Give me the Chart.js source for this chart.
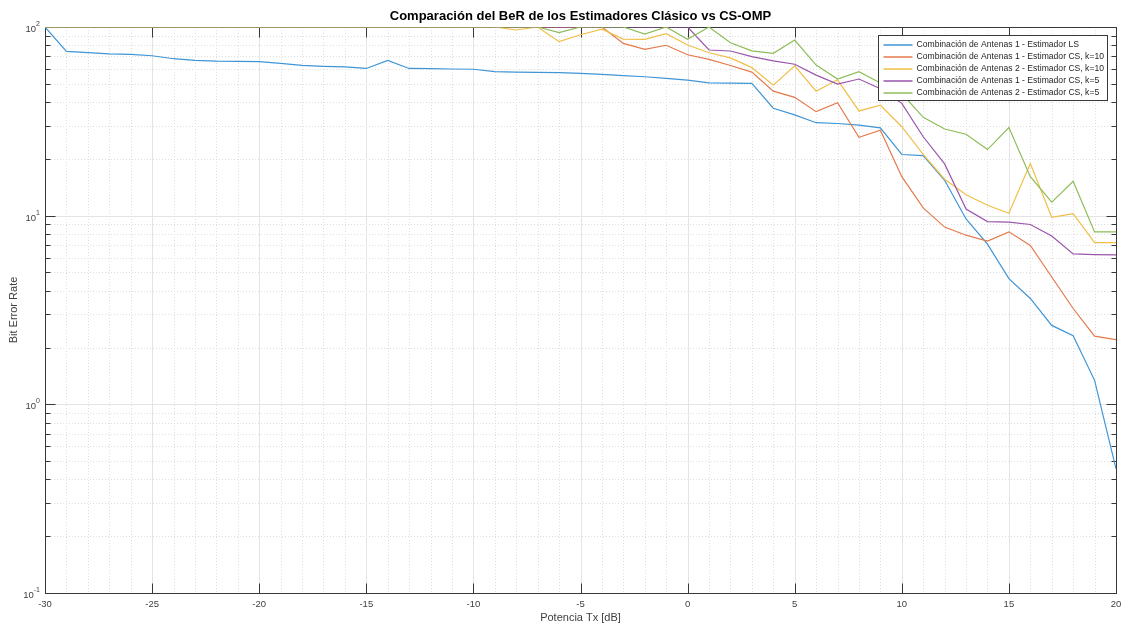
<!DOCTYPE html>
<html>
<head>
<meta charset="utf-8">
<title>Comparación del BeR de los Estimadores Clásico vs CS-OMP</title>
<script src="https://cdn.jsdelivr.net/npm/chart.js@4/dist/chart.umd.min.js"></script>
<style>
  html, body { margin: 0; padding: 0; background: #ffffff; }
  canvas { display: block; }
</style>
</head>
<body>
<canvas id="berChart" width="1122" height="626"></canvas>
<script>
// Transmit power sweep [dB]
const potenciaTx = [-30, -29, -28, -27, -26, -25, -24, -23, -22, -21, -20, -19, -18, -17, -16, -15, -14, -13, -12, -11,
  -10, -9, -8, -7, -6, -5, -4, -3, -2, -1, 0, 1, 2, 3, 4, 5, 6, 7, 8, 9, 10, 11, 12, 13, 14, 15, 16, 17, 18, 19, 20];

// Bit error rate per estimator / antenna combination
const berAnt1LS = [100, 74.3, 73.1, 72.1, 71.6, 70.4, 67.9, 66.6, 66.0, 65.8, 65.5, 64.2, 62.6, 61.9, 61.5, 60.3, 66.5, 60.3, 60.1, 59.9,
  59.7, 58.0, 57.7, 57.5, 57.3, 56.8, 56.1, 55.3, 54.5, 53.4, 52.3, 50.6, 50.4, 50.3, 37.1, 34.2, 31.1, 30.8, 30.2, 29.2,
  21.1, 20.8, 15.4, 9.6, 7.06, 4.64, 3.64, 2.62, 2.31, 1.34, 0.456];
const berAnt1CSk10 = [100, 100, 100, 100, 100, 100, 100, 100, 100, 100, 100, 100, 100, 100, 100, 100, 100, 100, 100, 100,
  100, 100, 100, 100, 100, 100, 100, 81.9, 76.2, 80.0, 71.3, 67.4, 62.5, 57.7, 45.7, 42.4, 35.6, 39.7, 26.0, 28.4,
  16.1, 11.0, 8.7, 7.88, 7.33, 8.21, 6.95, 4.73, 3.22, 2.30, 2.20];
const berAnt2CSk10 = [100, 100, 100, 100, 100, 100, 100, 100, 100, 100, 100, 100, 100, 100, 100, 100, 100, 100, 100, 100,
  100, 100, 96.4, 100, 83.6, 91.0, 97.4, 86.2, 86.0, 92.2, 80.3, 73.0, 68.6, 60.9, 49.2, 62.2, 45.7, 52.5, 35.9, 38.5,
  29.6, 21.1, 15.6, 12.9, 11.35, 10.3, 18.9, 9.8, 10.25, 7.2, 7.2];
const berAnt1CSk5 = [100, 100, 100, 100, 100, 100, 100, 100, 100, 100, 100, 100, 100, 100, 100, 100, 100, 100, 100, 100,
  100, 100, 100, 100, 100, 100, 100, 100, 100, 100, 100, 75.5, 74.6, 69.6, 66.1, 63.5, 55.6, 49.8, 53.0, 47.1,
  39.4, 26.2, 18.8, 10.85, 9.3, 9.24, 8.98, 7.8, 6.27, 6.22, 6.2];
const berAnt2CSk5 = [100, 100, 100, 100, 100, 100, 100, 100, 100, 100, 100, 100, 100, 100, 100, 100, 100, 100, 100, 100,
  100, 100, 100, 100, 93.5, 100, 100, 100, 91.8, 100, 86.0, 100, 82.5, 74.8, 72.5, 85.3, 62.8, 53.0, 57.9, 50.5,
  44.4, 33.2, 28.8, 27.0, 22.4, 29.3, 16.1, 11.8, 15.2, 8.2, 8.2];

const seriesLabels = [
  'Combinación de Antenas 1 - Estimador LS',
  'Combinación de Antenas 1 - Estimador CS, k=10',
  'Combinación de Antenas 2 - Estimador CS, k=10',
  'Combinación de Antenas 1 - Estimador CS, k=5',
  'Combinación de Antenas 2 - Estimador CS, k=5'
];
const seriesValues = [berAnt1LS, berAnt1CSk10, berAnt2CSk10, berAnt1CSk5, berAnt2CSk5];
const seriesColors = ['#3f95d6', '#e47a4c', '#f1bf48', '#9a56aa', '#8cbd58'];

// Axis ticks
const xTickValues = [-30, -25, -20, -15, -10, -5, 0, 5, 10, 15, 20];
const xTickLabels = ['-30', '-25', '-20', '-15', '-10', '-5', '0', '5', '10', '15', '20'];
const yDecadeValues = [0.1, 1, 10, 100];
const yDecadeExponents = ['-1', '0', '1', '2'];

const chartTitle = 'Comparación del BeR de los Estimadores Clásico vs CS-OMP';
const xAxisTitle = 'Potencia Tx [dB]';
const yAxisTitle = 'Bit Error Rate';

const FONT = '"Liberation Sans", Arial, Helvetica, sans-serif';
const AXIS_COLOR = '#383838';
const TEXT_COLOR = '#404040';

function strokeLine(ctx, x1, y1, x2, y2) {
  ctx.beginPath();
  ctx.moveTo(x1, y1);
  ctx.lineTo(x2, y2);
  ctx.stroke();
}
const crisp = v => Math.round(v) + 0.5;

// Grid, box and tick marks in the style of a MATLAB axes
const matlabAxes = {
  id: 'matlabAxes',
  beforeDatasetsDraw(chart) {
    const { ctx, chartArea: a, scales: { x, y } } = chart;
    ctx.save();
    ctx.lineWidth = 1;

    // minor grid (dotted)
    ctx.strokeStyle = '#dedede';
    ctx.setLineDash([1, 2]);
    for (let v = x.min; v <= x.max; v++) {
      if (v % 5 === 0) continue;
      const px = crisp(x.getPixelForValue(v));
      strokeLine(ctx, px, a.top, px, a.bottom);
    }
    for (const d of yDecadeValues.slice(0, -1)) {
      for (let k = 2; k <= 9; k++) {
        const py = crisp(y.getPixelForValue(d * k));
        strokeLine(ctx, a.left, py, a.right, py);
      }
    }

    // major grid (solid)
    ctx.setLineDash([]);
    ctx.strokeStyle = '#e4e4e4';
    for (const v of xTickValues.slice(1, -1)) {
      const px = crisp(x.getPixelForValue(v));
      strokeLine(ctx, px, a.top, px, a.bottom);
    }
    for (const v of yDecadeValues.slice(1, -1)) {
      const py = crisp(y.getPixelForValue(v));
      strokeLine(ctx, a.left, py, a.right, py);
    }

    // axes box
    ctx.strokeStyle = AXIS_COLOR;
    const L = crisp(a.left), R = crisp(a.right), T = crisp(a.top), B = crisp(a.bottom);
    ctx.strokeRect(L, T, R - L, B - T);

    // x tick marks (inward, bottom and top)
    for (const v of xTickValues.slice(1, -1)) {
      const px = crisp(x.getPixelForValue(v));
      strokeLine(ctx, px, B, px, B - 10);
      strokeLine(ctx, px, T, px, T + 10);
    }
    // y tick marks: decades long, 2..9 short
    for (const d of yDecadeValues) {
      const py = crisp(y.getPixelForValue(d));
      strokeLine(ctx, L, py, L + 10, py);
      strokeLine(ctx, R, py, R - 10, py);
      if (d === 100) continue;
      for (let k = 2; k <= 9; k++) {
        const pm = crisp(y.getPixelForValue(d * k));
        strokeLine(ctx, L, pm, L + 5, pm);
        strokeLine(ctx, R, pm, R - 5, pm);
      }
    }
    ctx.restore();
  },

  afterDatasetsDraw(chart) {
    const { ctx, chartArea: a } = chart;
    ctx.save();
    // legend box, top-right inside the axes
    const boxW = 229, rowH = 12;
    const boxH = rowH * seriesLabels.length + 5;
    const bx = crisp(a.right - 9 - boxW), by = crisp(a.top + 8);
    ctx.fillStyle = '#ffffff';
    ctx.fillRect(bx, by, boxW, boxH);
    ctx.strokeStyle = AXIS_COLOR;
    ctx.lineWidth = 1;
    ctx.strokeRect(bx, by, boxW, boxH);
    ctx.font = '8.6px ' + FONT;
    ctx.textBaseline = 'middle';
    ctx.textAlign = 'left';
    seriesLabels.forEach((label, i) => {
      const cy = by + 9 + i * rowH;
      ctx.strokeStyle = seriesColors[i];
      ctx.lineWidth = 1.5;
      strokeLine(ctx, bx + 5, Math.round(cy), bx + 34, Math.round(cy));
      ctx.fillStyle = '#1f1f1f';
      ctx.fillText(label, bx + 38, cy + 0.5);
    });
    ctx.restore();
  },

  afterDraw(chart) {
    const { ctx, chartArea: a, scales: { x, y } } = chart;
    ctx.save();
    ctx.fillStyle = TEXT_COLOR;

    // x tick labels
    ctx.font = '9.5px ' + FONT;
    ctx.textAlign = 'center';
    ctx.textBaseline = 'middle';
    xTickValues.forEach((v, i) => {
      ctx.fillText(xTickLabels[i], x.getPixelForValue(v), a.bottom + 11);
    });

    // y tick labels as powers of ten
    yDecadeValues.forEach((v, i) => {
      const py = y.getPixelForValue(v);
      ctx.font = '7px ' + FONT;
      ctx.textAlign = 'right';
      const expRight = a.left - 5;
      ctx.fillText(yDecadeExponents[i], expRight, py - 3);
      const expW = ctx.measureText(yDecadeExponents[i]).width;
      ctx.font = '9.5px ' + FONT;
      ctx.fillText('10', expRight - expW, py + 2.5);
    });

    // axis titles
    ctx.font = '11px ' + FONT;
    ctx.textAlign = 'center';
    ctx.fillText(xAxisTitle, (a.left + a.right) / 2, a.bottom + 25);
    ctx.save();
    ctx.translate(14, (a.top + a.bottom) / 2);
    ctx.rotate(-Math.PI / 2);
    ctx.fillText(yAxisTitle, 0, 0);
    ctx.restore();

    // chart title
    ctx.fillStyle = '#000000';
    ctx.font = 'bold 13px ' + FONT;
    ctx.fillText(chartTitle, (a.left + a.right) / 2, 16);
    ctx.restore();
  }
};

const datasets = seriesValues.map((vals, i) => ({
  label: seriesLabels[i],
  data: potenciaTx.map((p, j) => ({ x: p, y: vals[j] })),
  borderColor: seriesColors[i],
  backgroundColor: seriesColors[i],
  borderWidth: 1.2,
  pointRadius: 0,
  tension: 0,
  fill: false,
  // later series are drawn on top
  order: seriesValues.length - i
}));

new Chart(document.getElementById('berChart'), {
  type: 'line',
  data: { datasets },
  options: {
    responsive: false,
    animation: false,
    devicePixelRatio: 1,
    layout: { padding: { left: 45, right: 6, top: 27, bottom: 33 } },
    plugins: {
      legend: { display: false },
      title: { display: false },
      tooltip: { enabled: false }
    },
    scales: {
      x: { type: 'linear', min: -30, max: 20, display: false },
      y: { type: 'logarithmic', min: 0.1, max: 100, display: false }
    }
  },
  plugins: [matlabAxes]
});
</script>
</body>
</html>
